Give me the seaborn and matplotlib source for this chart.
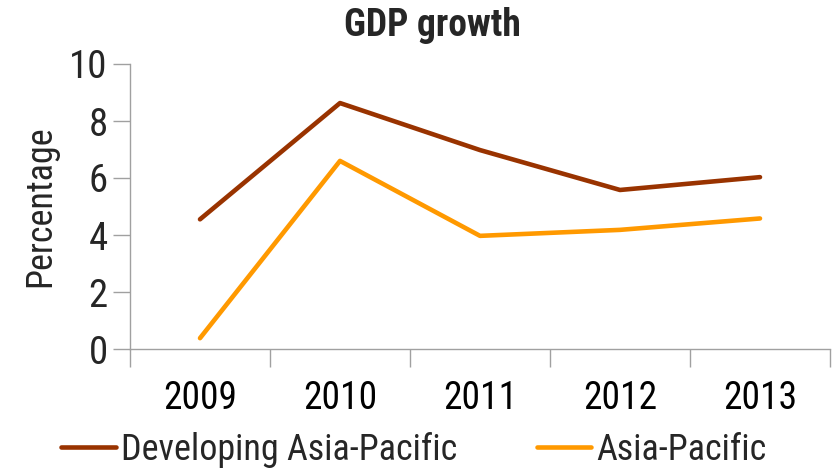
import matplotlib
matplotlib.use("Agg")
import matplotlib.pyplot as plt
import seaborn as sns
import pandas as pd
from matplotlib import font_manager
from matplotlib.lines import Line2D

years = ["2009", "2010", "2011", "2012", "2013"]
developing = [4.55, 8.63, 6.98, 5.58, 6.03]
asia_pacific = [0.38, 6.6, 3.97, 4.18, 4.58]
series_names = ["Developing Asia-Pacific", "Asia-Pacific"]
colors = ["#993300", "#FF9900"]

sns.set_theme(style="white")
names = {f.name for f in font_manager.fontManager.ttflist}
fam = "Liberation Sans Narrow" if "Liberation Sans Narrow" in names else "Roboto Condensed" if "Roboto Condensed" in names else "Liberation Sans"
plt.rcParams["font.family"] = [fam, "DejaVu Sans"]

df = pd.DataFrame({
    "Year": years * 2,
    "Value": developing + asia_pacific,
    "Series": [series_names[0]] * 5 + [series_names[1]] * 5,
})
df["x"] = list(range(5)) * 2

fig = plt.figure(figsize=(8.4, 4.73), dpi=100)
ax = fig.add_axes([130/840, 1 - 349/473, 700/840, 285/473])
sns.lineplot(data=df, x="x", y="Value", hue="Series", palette=colors,
             linewidth=3.3, ax=ax, legend=False, sort=False)

ax.set_xlim(-0.5, 4.5)
ax.set_ylim(0, 10)
ax.set_yticks([0, 2, 4, 6, 8, 10])
ax.set_xticks([0, 1, 2, 3, 4])
ax.set_xticklabels(years)
ax.set_xticks([-0.5, 0.5, 1.5, 2.5, 3.5, 4.5], minor=True)
ax.tick_params(axis="x", which="major", length=0, pad=22, labelsize=27, colors="black")
ax.tick_params(axis="x", which="minor", length=13, width=1, color="#a0a0a0", direction="out", bottom=True)
ax.tick_params(axis="y", length=12, width=1, color="#a0a0a0", direction="out", labelsize=28, pad=4, left=True)
ax.set_xlabel("")
ax.set_ylabel("Percentage", fontsize=26, labelpad=8)
for s in ["top", "right"]:
    ax.spines[s].set_visible(False)
for s in ["left", "bottom"]:
    ax.spines[s].set_color("#a0a0a0")
    ax.spines[s].set_linewidth(1)

fig.text(0.515, 1 - 25/473, "GDP growth", ha="center", va="center", fontsize=27, fontweight="bold")

handles = [Line2D([], [], color=c, linewidth=3.3) for c in colors]
fig.legend(handles, series_names, loc="center", bbox_to_anchor=(414/840, 1 - 450/473),
           ncol=2, frameon=False, fontsize=26, handlelength=1.5, handletextpad=0.15,
           columnspacing=2.2)

fig.savefig("out.png", dpi=100)
